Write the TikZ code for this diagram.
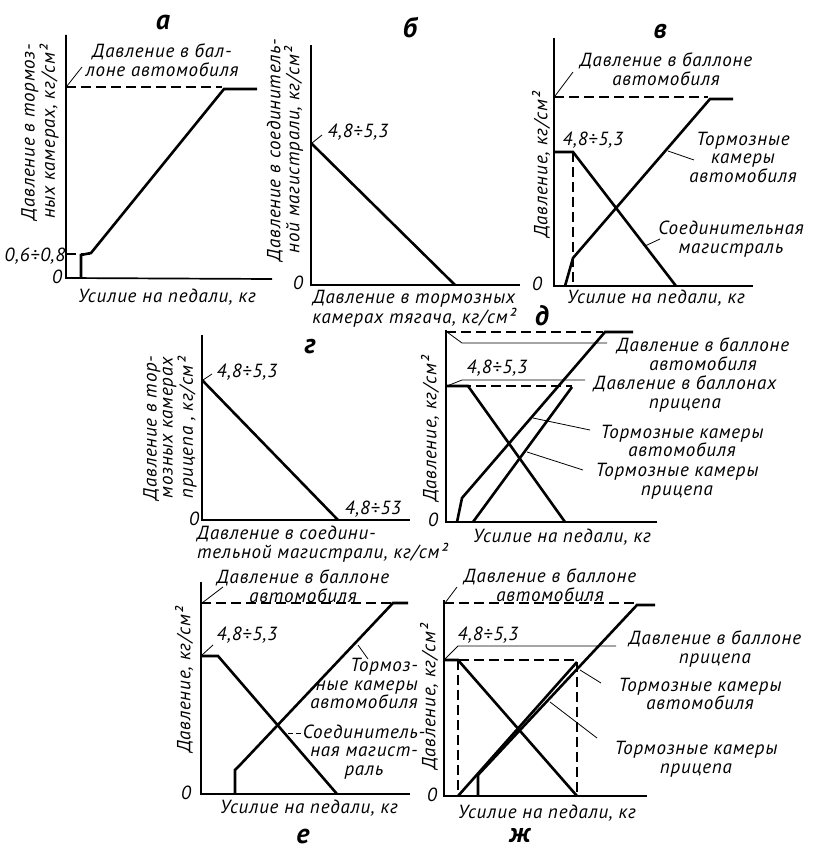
\documentclass[tikz,border=0pt]{standalone}
\usepackage{fontspec}
\setmainfont{PT Sans}
\usetikzlibrary{positioning}
\newcommand{\lblsize}{\fontsize{19}{18.5}\selectfont\itshape\addfontfeature{LetterSpace=4}}
\newcommand{\ylblsize}{\fontsize{19}{16}\selectfont\itshape\addfontfeature{LetterSpace=4}}
\tikzset{
  axis/.style={line width=1.7pt},
  curve/.style={line width=2.6pt},
  level/.style={line width=1.1pt,dash pattern=on 10pt off 5pt},
  lead/.style={line width=0.8pt},
  lbl/.style={font=\lblsize,inner sep=0pt,align=center},
  ylbl/.style={font=\ylblsize,inner sep=0pt,align=center,rotate=90},
  panel/.style={font=\fontsize{28}{28}\selectfont\bfseries\itshape,inner sep=0pt},
}
\begin{document}
\begin{tikzpicture}[x=1pt,y=-1pt,line join=miter]
\useasboundingbox (0,0) rectangle (812,853);

% --- a
\node[panel] (ta) at (163,23) {а};
\draw[axis] (66,35) -- (66,278) -- (272,279);
\node[lbl] (a0) at (57,277) {0};
\node[lbl] (alow) at (35,256) {0,6÷0,8};
\draw[level] (66,254) -- (90,254);
\draw[level] (66,87) -- (222,87);
\draw[curve] (81,278) -- (81,255) -- (91,253) -- (224,89) -- (257,89);
\node[lbl] (atop) at (162,60) {Давление в бал-\\лоне автомобиля};
\draw[lead] (67,86) -- (82,67);
\node[ylbl] (ay) at (40,132) {Давление в тормоз-\\ных камерах, кг/см²};
\node[lbl] (ax) at (167,297) {Усилие на педали, кг};

% --- b
\node[panel] (tb) at (410,28) {б};
\draw[axis] (311,45) -- (311,285) -- (520,285);
\node[lbl] (b0) at (298,283) {0};
\draw[curve] (311,143) -- (455,285);
\node[lbl] (blev) at (358,132) {4,8÷5,3};
\draw[lead] (312,143) -- (322,135);
\node[ylbl] (by) at (285,150) {Давление в соединитель-\\ной магистрали, кг/см²};
\node[lbl] (bx) at (414,309) {Давление в тормозных\\камерах тягача, кг/см²};

% --- v
\node[panel] (tv) at (660,32) {в};
\draw[axis] (554,38) -- (554,286) -- (753,286);
\node[lbl] (v0) at (537,284) {0};
\draw[level] (554,97) -- (708,97);
\draw[level] (573,152) -- (573,286);
\draw[curve] (565,286) -- (573,258) -- (710,99) -- (733,99);
\draw[curve] (554,152) -- (573,152) -- (676,286);
\node[lbl] (vtop) at (666,69) {Давление в баллоне\\автомобиля};
\draw[lead] (555,96) -- (573,72);
\node[lbl] (vlev) at (593,140) {4,8÷5,3};
\node[lbl] (vcam) at (743,157) {Тормозные\\камеры\\автомобиля};
\draw[lead] (668,151) -- (694,160);
\node[lbl] (vmag) at (731,239) {Соединительная\\магистраль};
\draw[lead] (645,246) -- (660,239);
\node[ylbl] (vy) at (541,165) {Давление, кг/см²};
\node[lbl] (vx) at (656,298) {Усилие на педали, кг};

% --- g
\node[panel] (tg) at (310,347) {г};
\draw[axis] (202,335) -- (202,520) -- (410,520);
\node[lbl] (g0) at (194,519) {0};
\draw[curve] (202,380) -- (338,520);
\node[lbl] (glev) at (247,372) {4,8÷5,3};
\draw[lead] (203,380) -- (212,374);
\node[lbl] (gend) at (373,509) {4,8÷53};
\node[ylbl] (gy) at (170,428) {Давление в тор-\\мозных камерах\\прицепа , кг/см²};
\node[lbl,align=left,anchor=north west] (gx) at (197,526) {Давление в соедини-\\тельной магистрали, кг/см²};

% --- d
\node[panel] (td) at (542,316) {д};
\draw[axis] (446,330) -- (446,522) -- (657,522);
\node[lbl] (d0) at (433,520) {0};
\draw[level] (446,332) -- (603,332);
\draw[level] (446,386) -- (572,386);
\draw[curve] (457,522) -- (462,498) -- (605,332) -- (633,332);
\draw[curve] (473,522) -- (572,387);
\draw[curve] (446,386) -- (468,386) -- (565,522);
\node[lbl] (dtop) at (703,354) {Давление в баллоне\\автомобиля};
\draw[lead] (447,332) -- (462,343) -- (607,343);
\node[lbl] (dlev) at (497,368) {4,8÷5,3};
\node[lbl] (dtr) at (685,394) {Давление в баллонах\\прицепа};
\draw[lead] (447,386) -- (462,380) -- (585,380);
\node[lbl] (dcam) at (682,441) {Тормозные камеры\\автомобиля};
\draw[lead] (533,418) -- (590,430);
\node[lbl] (dtcam) at (677,481) {Тормозные камеры\\прицепа};
\draw[lead] (527,452) -- (583,470);
\node[ylbl] (dy) at (430,429) {Давление, кг/см²};
\node[lbl] (dx) at (562,537) {Усилие на педали, кг};

% --- e
\node[panel] (te) at (303,836) {е};
\draw[axis] (201,582) -- (201,794) -- (410,794);
\node[lbl] (e0) at (186,793) {0};
\draw[level] (201,603) -- (393,603);
\draw[curve] (235,794) -- (235,770) -- (240,765) -- (393,603) -- (408,603);
\draw[curve] (201,656) -- (218,656) -- (337,794);
\node[lbl] (etop) at (303,586) {Давление в баллоне\\автомобиля};
\draw[lead] (202,603) -- (223,587);
\node[lbl] (elev) at (247,635) {4,8÷5,3};
\draw[lead] (202,655) -- (213,645);
\node[lbl,align=right,anchor=north east] (ecam) at (418,658) {Тормоз-\\ные камеры\\автомобиля};
\draw[lead] (358,645) -- (368,659);
\node[lbl] (emag) at (364,752) {Соединитель-\\ная магист-\\раль};
\draw[lead,dash pattern=on 5pt off 3pt] (288,733) -- (305,733);
\node[ylbl] (ey) at (184,680) {Давление, кг/см²};
\node[lbl] (ex) at (309,808) {Усилие на педали, кг};

% --- zh
\node[panel] (tzh) at (520,836) {ж};
\draw[axis] (444,600) -- (444,796) -- (647,796);
\node[lbl] (zh0) at (432,795) {0};
\draw[level] (444,603) -- (637,603);
\draw[level] (444,660) -- (577,660);
\draw[level] (458,660) -- (458,796);
\draw[level] (577,662) -- (577,796);
\draw[curve] (458,796) -- (577,662);
\draw[curve] (478,796) -- (478,775) -- (637,605) -- (655,605);
\draw[curve] (444,660) -- (458,660) -- (577,796);
\node[lbl] (zhtop) at (550,585) {Давление в баллоне\\автомобиля};
\draw[lead] (445,603) -- (457,587);
\node[lbl] (zhlev) at (488,635) {4,8÷5,3};
\node[lbl] (zhtr) at (715,649) {Давление в баллоне\\прицепа};
\draw[lead] (445,659) -- (458,646) -- (616,646);
\node[lbl] (zhcam) at (700,694) {Тормозные камеры\\автомобиля};
\draw[lead] (580,670) -- (601,683);
\node[lbl] (zhtcam) at (696,759) {Тормозные камеры\\прицепа};
\draw[lead] (550,702) -- (597,738);
\node[ylbl] (zhy) at (429,697) {Давление, кг/см²};
\node[lbl] (zhx) at (547,813) {Усилие на педали, кг};
\end{tikzpicture}
\end{document}
